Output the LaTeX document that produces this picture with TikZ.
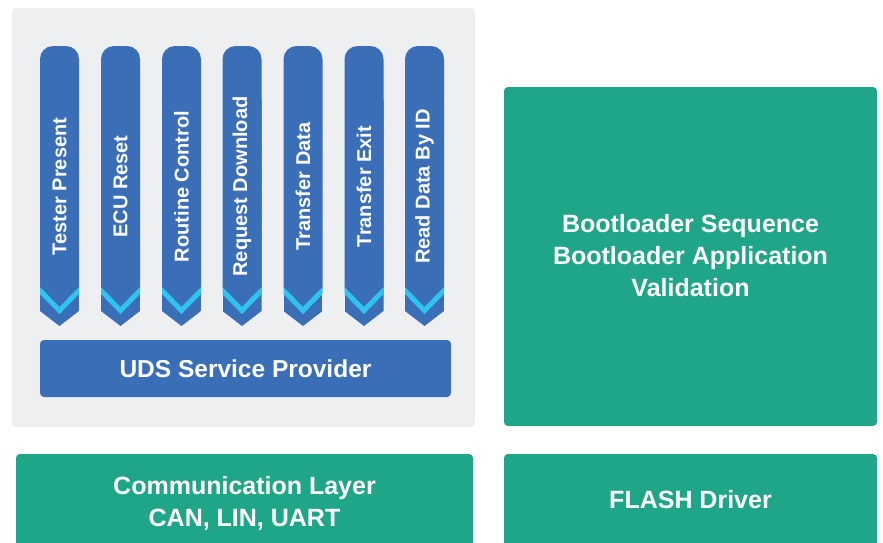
\documentclass[tikz,border=0pt]{standalone}
\usepackage{fontspec}
\setmainfont{Liberation Sans}
\usepackage{tikz}
\usetikzlibrary{positioning,shapes}
\definecolor{panelgray}{HTML}{EEEFF1}
\definecolor{svcblue}{HTML}{3A6FB8}
\definecolor{svccyan}{HTML}{31C3EF}
\definecolor{layergreen}{HTML}{1FA587}
\tikzstyle{panel} = [rectangle, rounded corners=4pt, inner sep=0pt, minimum width=463pt, minimum height=419pt, fill=panelgray]
\tikzstyle{provider} = [rectangle, rounded corners=4pt, inner sep=0pt, minimum width=411pt, minimum height=57pt, fill=svcblue, text=white, font=\bfseries\fontsize{24.5}{28}\selectfont]
\tikzstyle{layer} = [rectangle, rounded corners=4pt, inner sep=0pt, fill=layergreen]
\tikzstyle{layertext} = [text=white, align=center, font=\bfseries\fontsize{25}{32}\selectfont]
\tikzstyle{svctext} = [rotate=90, text=white, inner sep=0pt, font=\bfseries\fontsize{20}{20}\selectfont]
\tikzstyle{stripe} = [draw=svccyan, line width=5pt]
% one service column: name, x centre, label
\newcommand{\svccol}[3]{%
  \fill[svcblue, rounded corners=13pt] (#2-19.5,46) rectangle (#2+19.5,300);
  \begin{scope}
    \clip (#2-19.5,100) -- (#2+19.5,100) -- (#2+19.5,311) -- (#2,326) -- (#2-19.5,311) -- cycle;
    \fill[svcblue] (#2-19.5,100) rectangle (#2+19.5,330);
    \draw[stripe] (#2-22,288) -- (#2,310.5) -- (#2+22,288);
  \end{scope}
  \node (#1) [svctext] at (#2,186.5) {#3};
}

\begin{document}
\begin{tikzpicture}[x=1pt, y=-1pt]
\useasboundingbox (0,0) rectangle (883,542);
\clip (0,0) rectangle (883,542);

\node (uds) [panel] at (243.5,217.5) {};

\svccol{tester}{59.5}{Tester Present}
\svccol{reset}{120.5}{ECU Reset}
\svccol{routine}{181.5}{Routine Control}
\svccol{reqdl}{242}{Request Download}
\svccol{xfer}{303}{Transfer Data}
\svccol{xferexit}{364}{Transfer Exit}
\svccol{rdid}{424.5}{Read Data By ID}

\node (provider) [provider] at (245.5,368.5) {UDS Service Provider};

\node (boot) [layer, minimum width=373pt, minimum height=339pt] at (690.5,256.5) {};
\node (boottext) [layertext] at (690.5,256) {Bootloader Sequence\\Bootloader Application\\Validation};

\node (comm) [layer, minimum width=457pt, minimum height=110pt] at (244.5,509) {};
\node (commtext) [layertext] at (244.5,503) {Communication Layer\\CAN, LIN, UART};

\node (flash) [layer, minimum width=373pt, minimum height=110pt] at (690.5,509) {};
\node (flashtext) [layertext] at (690.5,500) {FLASH Driver};

\end{tikzpicture}
\end{document}
